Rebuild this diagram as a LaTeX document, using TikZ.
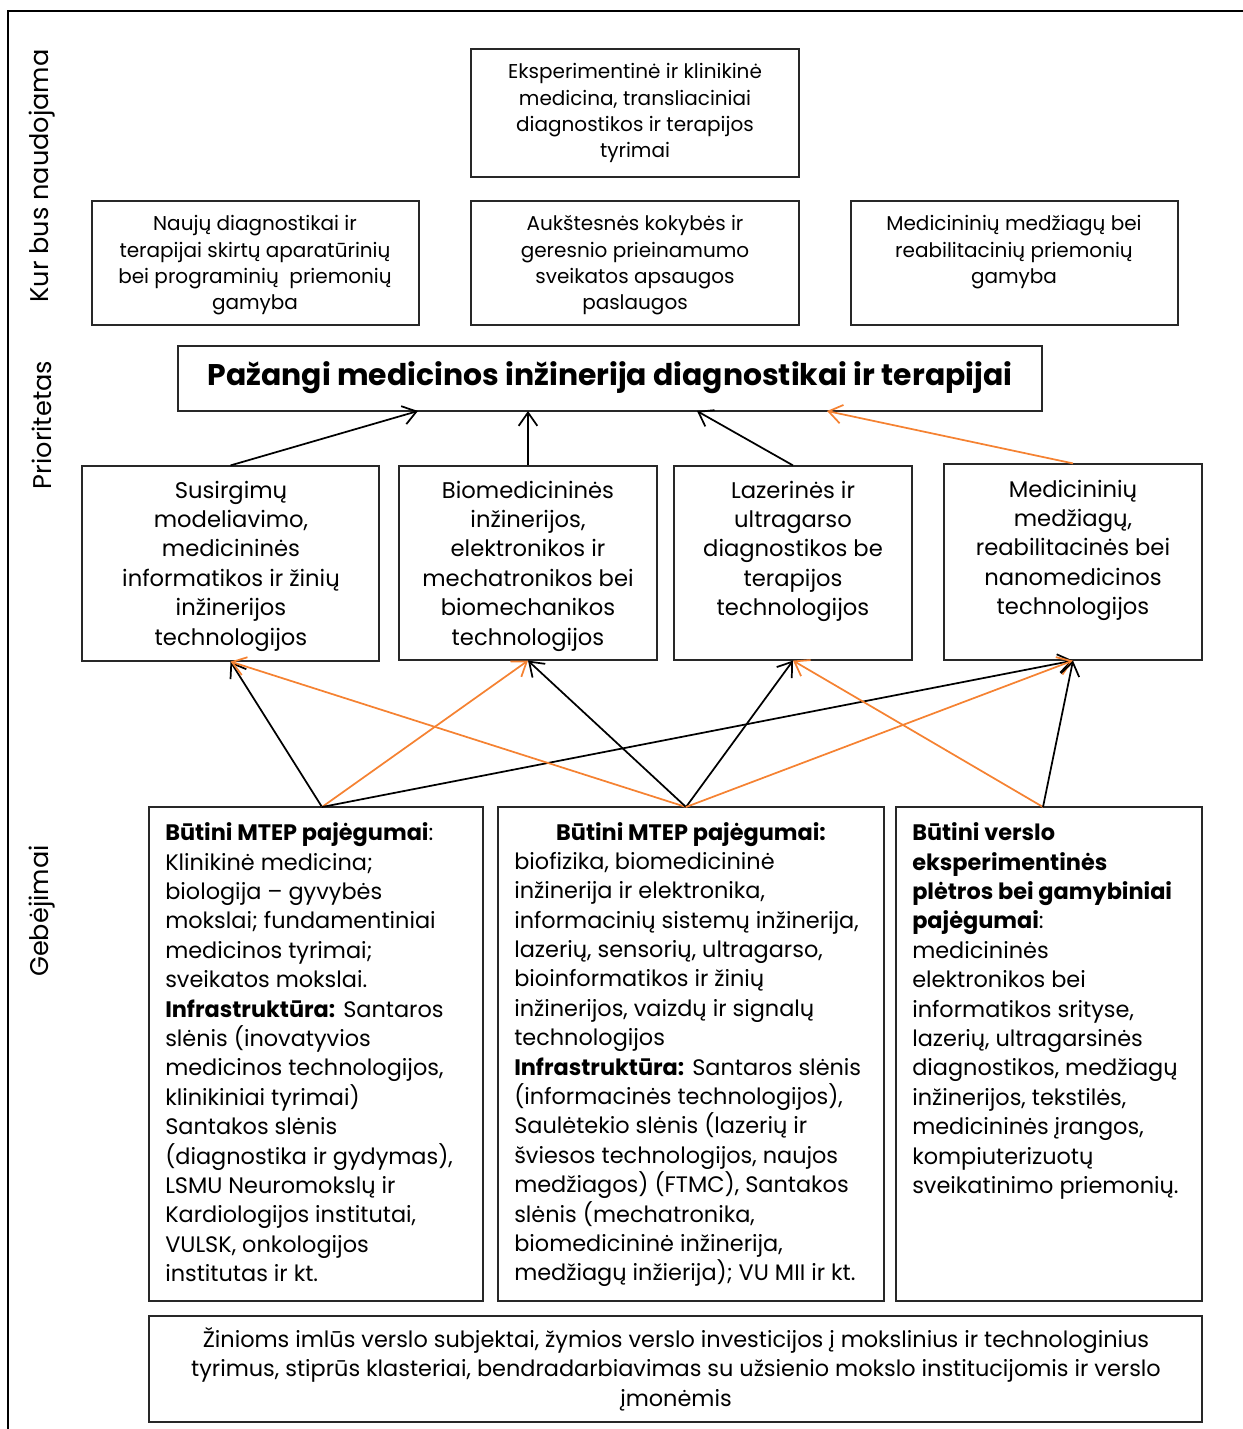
\documentclass[tikz,border=0pt]{standalone}
\usepackage{fontspec}
\setmainfont{Poppins}
\usetikzlibrary{arrows.meta,fit}
\definecolor{orng}{RGB}{245,130,50}
\definecolor{edge}{RGB}{40,40,40}
\begin{document}
\begin{tikzpicture}[x=0.75pt,y=-0.75pt,
  box/.style={draw=edge,line width=0.9pt,inner sep=0pt,fill=none},
  txt/.style={inner sep=0pt,align=center,text=black},
  ftop/.style={font=\fontsize{15}{19.7}\selectfont},
  fmid/.style={font=\fontsize{17}{22.1}\selectfont},
  fbot/.style={font=\fontsize{16.8}{22.05}\selectfont},
  side/.style={inner sep=0pt,rotate=90,font=\fontsize{19.2}{22}\selectfont},
  arr/.style={-{Straight Barb[length=10pt,width=14pt]},line width=1.3pt},
  blk/.style={arr,draw=black},
  org/.style={arr,draw=orng}]
\useasboundingbox (0,0) rectangle (1243,1429);
\draw[line width=1.5pt] (8,1429) -- (8,11) -- (1243,11);

% side labels
\node[side] (s1) at (42,176) {Kur bus naudojama};
\node[side] (s2) at (42,425) {Prioritetas};
\node[side] (s3) at (42,911) {Gebėjimai};

% top boxes
\node[box,fit={(471,49) (799,177)}] (e) {};
\node[txt,ftop,anchor=north] (etx) at (635,63.5) {Eksperimentinė ir klinikinė\\medicina, transliaciniai\\diagnostikos ir terapijos\\tyrimai};
\node[box,fit={(92,201) (419,325)}] (n1) {};
\node[txt,ftop,anchor=north] (n1tx) at (255,215.5) {Naujų diagnostikai ir\\terapijai skirtų aparatūrinių\\bei programinių\ \ priemonių\\gamyba};
\node[box,fit={(471,201) (799,325)}] (a) {};
\node[txt,ftop,anchor=north] (atx) at (635,215.5) {Aukštesnės kokybės ir\\geresnio prieinamumo\\sveikatos apsaugos\\paslaugos};
\node[box,fit={(851,201) (1178,325)}] (m) {};
\node[txt,ftop,anchor=north] (mtx) at (1014,215.5) {Medicininių medžiagų bei\\reabilitacinių priemonių\\gamyba};

% priority
\node[box,fit={(178,346) (1042,411)}] (p) {};
\node[txt,font=\fontsize{22.4}{26}\selectfont\bfseries] (ptx) at (610,378) {Pažangi medicinos inžinerija diagnostikai ir terapijai};

% technology boxes
\node[box,fit={(82,466) (379,661)}] (t1) {};
\node[txt,fmid,anchor=north] (t1tx) at (231,480.5) {Susirgimų\\modeliavimo,\\medicininės\\informatikos ir žinių\\inžinerijos\\technologijos};
\node[box,fit={(399,466) (657,660)}] (t2) {};
\node[txt,fmid,anchor=north] (t2tx) at (528,480.5) {Biomedicininės\\inžinerijos,\\elektronikos ir\\mechatronikos bei\\biomechanikos\\technologijos};
\node[box,fit={(674,466) (912,660)}] (t3) {};
\node[txt,fmid,anchor=north] (t3tx) at (793,480.5) {Lazerinės ir\\ultragarso\\diagnostikos be\\terapijos\\technologijos};
\node[box,fit={(944,464) (1202,660)}] (t4) {};
\node[txt,fmid,anchor=north] (t4tx) at (1073,479.5) {Medicininių\\medžiagų,\\reabilitacinės bei\\nanomedicinos\\technologijos};

% capability boxes
\node[box,fit={(149,807) (483,1301)}] (b1) {};
\node[txt,fbot,align=left,anchor=north west] (b1tx) at (165,822.5) {\textbf{Būtini MTEP pajėgumai}:\\Klinikinė medicina;\\biologija – gyvybės\\mokslai; fundamentiniai\\medicinos tyrimai;\\sveikatos mokslai.\\\textbf{Infrastruktūra:} Santaros\\slėnis (inovatyvios\\medicinos technologijos,\\klinikiniai tyrimai)\\Santakos slėnis\\(diagnostika ir gydymas),\\LSMU Neuromokslų ir\\Kardiologijos institutai,\\VULSK, onkologijos\\institutas ir kt.};
\node[box,fit={(498,807) (884,1301)}] (b2) {};
\node[txt,anchor=north,font=\fontsize{16.8}{22.05}\selectfont\bfseries] (b2hd) at (691,822.5) {Būtini MTEP pajėgumai:};
\node[txt,fbot,align=left,anchor=north west] (b2tx) at (514,852) {biofizika, biomedicininė\\inžinerija ir elektronika,\\informacinių sistemų inžinerija,\\lazerių, sensorių, ultragarso,\\bioinformatikos ir žinių\\inžinerijos, vaizdų ir signalų\\technologijos\\\textbf{Infrastruktūra:} Santaros slėnis\\(informacinės technologijos),\\Saulėtekio slėnis (lazerių ir\\šviesos technologijos, naujos\\medžiagos) (FTMC), Santakos\\slėnis (mechatronika,\\biomedicininė inžinerija,\\medžiagų inžierija); VU MII ir kt.};
\node[box,fit={(896,807) (1202,1301)}] (b3) {};
\node[txt,fbot,align=left,anchor=north west] (b3tx) at (912,822.5) {\textbf{Būtini verslo}\\\textbf{eksperimentinės}\\\textbf{plėtros bei gamybiniai}\\\textbf{pajėgumai}:\\medicininės\\elektronikos bei\\informatikos srityse,\\lazerių, ultragarsinės\\diagnostikos, medžiagų\\inžinerijos, tekstilės,\\medicininės įrangos,\\kompiuterizuotų\\sveikatinimo priemonių.};

% bottom box
\node[box,fit={(149,1316) (1202,1422)}] (z) {};
\node[txt,fbot,anchor=north] (ztx) at (676,1327) {Žinioms imlūs verslo subjektai, žymios verslo investicijos į mokslinius ir technologinius\\tyrimus, stiprūs klasteriai, bendradarbiavimas su užsienio mokslo institucijomis ir verslo\\įmonėmis};

% connection points
\coordinate (p1) at (418,411);
\coordinate (p2) at (528,411);
\coordinate (p3) at (697,411);
\coordinate (p4) at (827,411);
\coordinate (o1) at (322,807);
\coordinate (o2) at (686,807);
\coordinate (o3) at (1043,807);

% arrows to priority
\draw[blk] (t1.north) -- (p1);
\draw[blk] (t2.north) -- (p2);
\draw[blk] (t3.north) -- (p3);
\draw[org] (t4.north) -- (p4);

% arrows from capabilities
\draw[blk] (o1) -- (t1.south);
\draw[org] (o1) -- (t2.south);
\draw[blk] (o1) -- (t4.south);
\draw[org] (o2) -- (t1.south);
\draw[blk] (o2) -- (t2.south);
\draw[blk] (o2) -- (t3.south);
\draw[org] (o2) -- (t4.south);
\draw[org] (o3) -- (t3.south);
\draw[blk] (o3) -- (t4.south);
\end{tikzpicture}
\end{document}
